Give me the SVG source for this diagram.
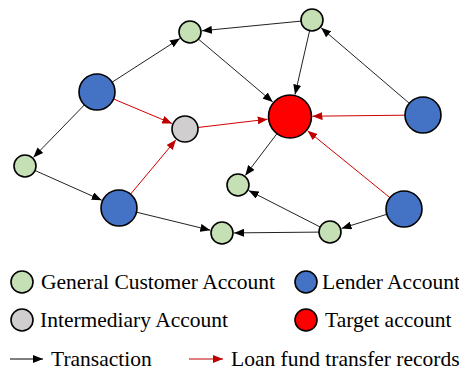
<svg xmlns="http://www.w3.org/2000/svg" width="459" height="372" viewBox="0 0 459 372">
<style>
.n{stroke:#000;stroke-width:1.6}
.g{fill:#C5E0B4}.b{fill:#4472C4}.i{fill:#D0CECE}.t{fill:#FF0000}
.e{stroke:#222;stroke-width:1;fill:none;marker-end:url(#ab)}
.r{stroke:#D00000;stroke-width:1;fill:none;marker-end:url(#ar)}
text{font-family:"Liberation Serif","Times New Roman",serif;font-size:21.5px;fill:#000}
</style>
<defs>
<marker id="ab" markerUnits="userSpaceOnUse" markerWidth="10" markerHeight="8" refX="10" refY="4" orient="auto"><path d="M0,0 L10,4 L0,8 z" fill="#000"/></marker>
<marker id="ar" markerUnits="userSpaceOnUse" markerWidth="10" markerHeight="8" refX="10" refY="4" orient="auto"><path d="M0,0 L10,4 L0,8 z" fill="#C00000"/></marker>
</defs>
<g id="connectors">
<line class="e" x1="112.1" y1="82.2" x2="179.9" y2="38.5"/>
<line class="e" x1="301.1" y1="21.1" x2="201.9" y2="30.8"/>
<line class="e" x1="198.4" y1="39.1" x2="272.8" y2="102"/>
<line class="e" x1="309.6" y1="30.7" x2="295" y2="94.6"/>
<line class="e" x1="409.3" y1="103.3" x2="321.1" y2="27.8"/>
<line class="e" x1="84.4" y1="104.9" x2="33.4" y2="157.4"/>
<line class="e" x1="35" y1="170.5" x2="101.7" y2="200.2"/>
<line class="e" x1="136.5" y1="212.2" x2="210.3" y2="230.2"/>
<line class="e" x1="277" y1="133.6" x2="245.3" y2="175.4"/>
<line class="e" x1="320.2" y1="227" x2="248.7" y2="190.5"/>
<line class="e" x1="319" y1="232.1" x2="234" y2="232.9"/>
<line class="e" x1="386.8" y1="214.3" x2="341.5" y2="228.4"/>
<line class="r" x1="113.6" y1="99" x2="172.1" y2="123.6"/>
<line class="r" x1="130.5" y1="194.2" x2="176" y2="139.8"/>
<line class="r" x1="197.9" y1="127.5" x2="267.7" y2="119.2"/>
<line class="r" x1="405" y1="115.2" x2="312.5" y2="116.2"/>
<line class="r" x1="390" y1="197.7" x2="307.5" y2="130.7"/>
</g>
<g id="G1"><circle class="n g" cx="190" cy="32" r="11"/></g>
<g id="G2"><circle class="n g" cx="312" cy="20" r="11"/></g>
<g id="B1"><circle class="n b" cx="97" cy="92" r="18"/></g>
<g id="I"><circle class="n i" cx="185" cy="129" r="13"/></g>
<g id="T"><circle class="n t" cx="290" cy="116.5" r="21.5"/></g>
<g id="B2"><circle class="n b" cx="423" cy="115" r="18"/></g>
<g id="G3"><circle class="n g" cx="25" cy="166" r="11"/></g>
<g id="B3"><circle class="n b" cx="119" cy="208" r="18"/></g>
<g id="G4"><circle class="n g" cx="238" cy="185" r="11"/></g>
<g id="B4"><circle class="n b" cx="404" cy="209" r="18"/></g>
<g id="G5"><circle class="n g" cx="330" cy="232" r="11"/></g>
<g id="G6"><circle class="n g" cx="222" cy="233" r="11"/></g>
<g id="legend">
<circle class="n g" cx="22" cy="282" r="11"/>
<text x="41" y="289">General Customer Account</text>
<circle class="n b" cx="306" cy="282" r="11"/>
<text x="322" y="289">Lender Account</text>
<circle class="n i" cx="22" cy="320" r="11"/>
<text x="40" y="327">Intermediary Account</text>
<circle class="n t" cx="306" cy="320" r="11"/>
<text x="325" y="327">Target account</text>
<line x1="10" y1="359" x2="43" y2="359" stroke="#000" stroke-width="1" marker-end="url(#ab)"/>
<text x="51" y="366">Transaction</text>
<line x1="189" y1="359" x2="223" y2="359" stroke="#C00000" stroke-width="1" marker-end="url(#ar)"/>
<text x="231" y="366">Loan fund transfer records</text>
</g>
</svg>
